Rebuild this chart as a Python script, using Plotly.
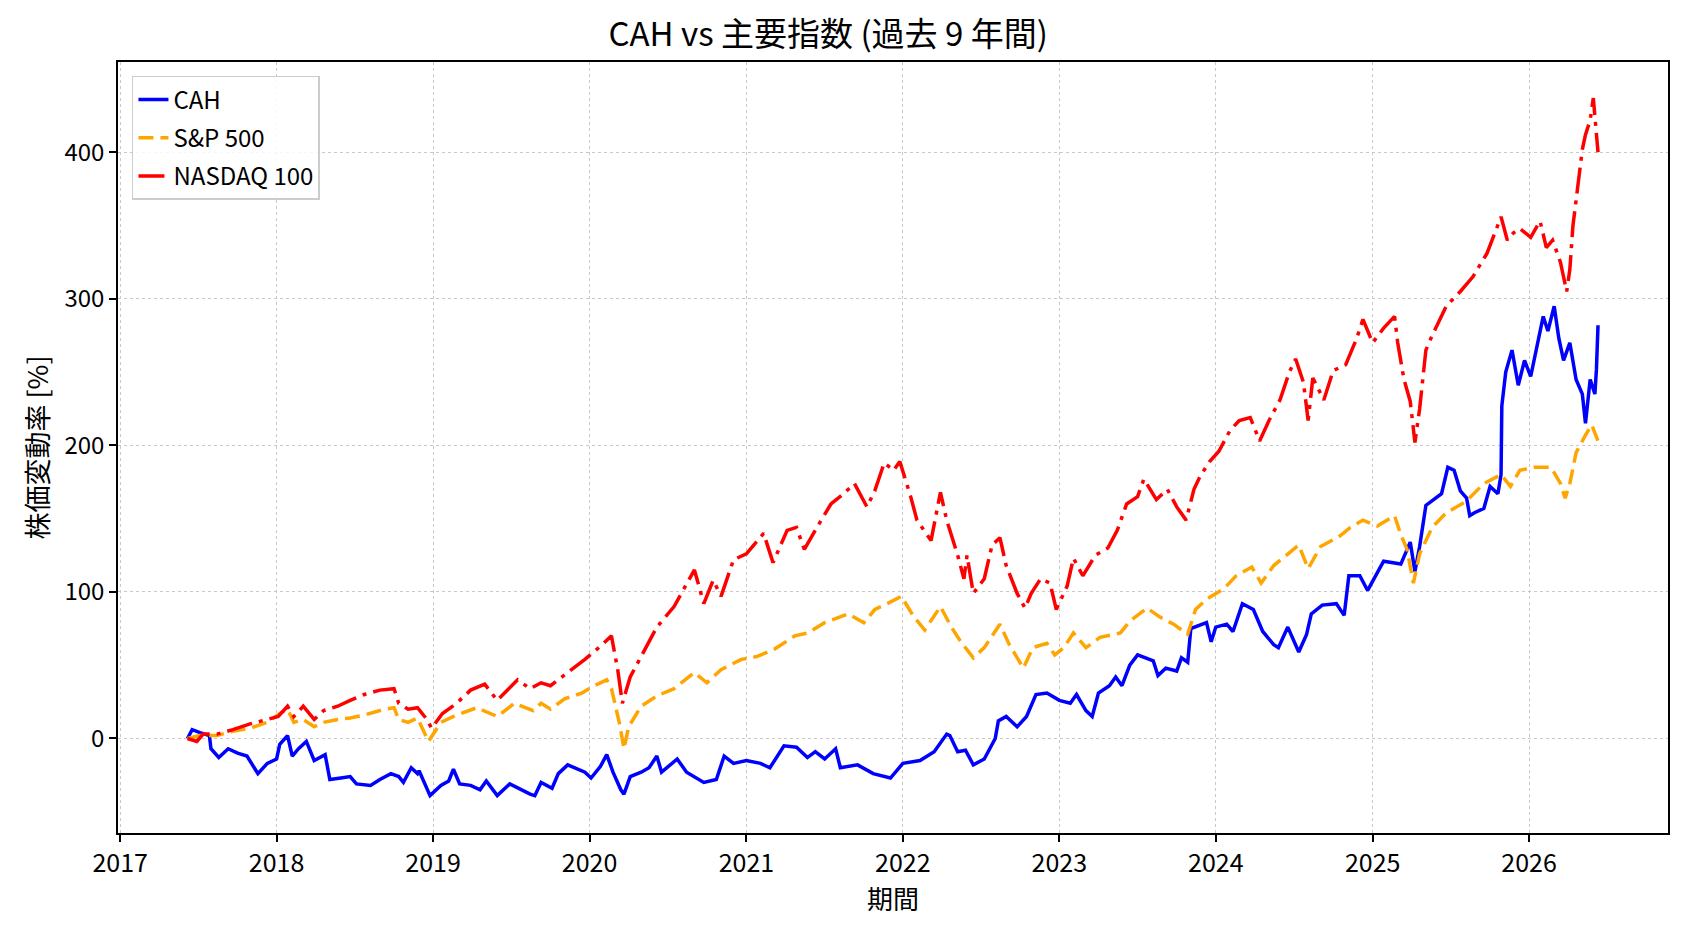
import plotly.graph_objects as go
import pandas as pd

# ---- data (decimal years, % change) ----
cah_t = [2017.43, 2017.46, 2017.51, 2017.57, 2017.58, 2017.63, 2017.69, 2017.75, 2017.81, 2017.88,
         2017.94, 2018.0, 2018.02, 2018.07, 2018.1, 2018.14, 2018.19, 2018.24, 2018.31, 2018.34,
         2018.41, 2018.47, 2018.51, 2018.6, 2018.66, 2018.73, 2018.78, 2018.81, 2018.86, 2018.9,
         2018.91, 2018.98, 2019.05, 2019.1, 2019.13, 2019.17, 2019.24, 2019.3, 2019.34, 2019.41,
         2019.49, 2019.56, 2019.62, 2019.65, 2019.69, 2019.76, 2019.8, 2019.86, 2019.9, 2019.97,
         2020.01, 2020.07, 2020.11, 2020.15, 2020.2, 2020.22, 2020.26, 2020.33, 2020.38, 2020.43,
         2020.46, 2020.56, 2020.62, 2020.73, 2020.81, 2020.86, 2020.92, 2021.0, 2021.09, 2021.15,
         2021.24, 2021.32, 2021.39, 2021.44, 2021.5, 2021.57, 2021.6, 2021.71, 2021.81, 2021.92,
         2022.0, 2022.11, 2022.2, 2022.28, 2022.3, 2022.35, 2022.4, 2022.45, 2022.52, 2022.59,
         2022.61, 2022.66, 2022.73, 2022.79, 2022.85, 2022.92, 2023.0, 2023.07, 2023.11, 2023.17,
         2023.21, 2023.25, 2023.32, 2023.36, 2023.4, 2023.45, 2023.5, 2023.6, 2023.63, 2023.68,
         2023.75, 2023.78, 2023.82, 2023.84, 2023.94, 2023.97, 2024.0, 2024.07, 2024.11, 2024.17,
         2024.24, 2024.3, 2024.37, 2024.4, 2024.46, 2024.53, 2024.58, 2024.61, 2024.68, 2024.77,
         2024.82, 2024.85, 2024.92, 2024.97, 2025.07, 2025.18, 2025.24, 2025.27, 2025.3, 2025.34,
         2025.44, 2025.48, 2025.52, 2025.56, 2025.6, 2025.62, 2025.65, 2025.71, 2025.75, 2025.8,
         2025.82, 2025.825, 2025.85, 2025.89, 2025.93, 2025.97, 2026.01, 2026.05, 2026.09, 2026.12,
         2026.16, 2026.19, 2026.22, 2026.26, 2026.3, 2026.34, 2026.36, 2026.39, 2026.42, 2026.43,
         2026.44]
cah_v = [0, 6, 4, 2, -7, -13, -7, -10, -12, -24,
         -17, -14, -4, 2, -12, -7, -2, -15, -11, -28,
         -27, -26, -31, -32, -28, -24, -26, -30, -20, -24,
         -22, -39, -32, -29, -21, -31, -32, -35, -29, -39,
         -31, -35, -38, -39, -30, -34, -24, -18, -20, -23,
         -27, -19, -11, -23, -35, -38, -26, -23, -20, -12,
         -23, -14, -23, -30, -28, -12, -17, -15, -17, -20,
         -5, -6, -13, -9, -14, -7, -20, -18, -24, -27,
         -17, -15, -9, 3, 2, -9, -8, -18, -14, 0,
         12, 15, 8, 15, 30, 31, 26, 24, 30, 19,
         15, 31, 36, 42, 36, 50, 57, 53, 43, 48,
         46, 55, 52, 75, 79, 66, 76, 78, 73, 92,
         88, 73, 64, 62, 76, 59, 71, 85, 91, 92,
         84, 111, 111, 101, 121, 119, 134, 114, 131, 159,
         167, 185, 183, 169, 164, 152, 154, 157, 172, 167,
         180, 227, 250, 265, 241, 258, 247, 268, 288, 278,
         295, 273, 258, 270, 245, 235, 215, 245, 235, 252,
         282]

sp_t = [2017.43, 2017.51, 2017.62, 2017.72, 2017.83, 2017.94, 2018.02, 2018.07, 2018.11, 2018.17,
        2018.24, 2018.3, 2018.39, 2018.47, 2018.56, 2018.69, 2018.75, 2018.78, 2018.84, 2018.9,
        2018.97, 2019.05, 2019.15, 2019.28, 2019.41, 2019.52, 2019.64, 2019.69, 2019.75, 2019.84,
        2019.95, 2020.03, 2020.11, 2020.14, 2020.19, 2020.22, 2020.25, 2020.33, 2020.43, 2020.54,
        2020.67, 2020.75, 2020.84, 2020.97, 2021.07, 2021.18, 2021.31, 2021.39, 2021.5, 2021.65,
        2021.75, 2021.82, 2021.9, 2021.99, 2022.07, 2022.14, 2022.24, 2022.31, 2022.37, 2022.45,
        2022.52, 2022.62, 2022.68, 2022.77, 2022.83, 2022.92, 2022.97, 2023.03, 2023.09, 2023.17,
        2023.26, 2023.39, 2023.45, 2023.56, 2023.64, 2023.73, 2023.82, 2023.87, 2023.94, 2024.05,
        2024.13, 2024.23, 2024.29, 2024.37, 2024.45, 2024.53, 2024.59, 2024.67, 2024.79, 2024.86,
        2024.94, 2025.03, 2025.14, 2025.18, 2025.22, 2025.26, 2025.3, 2025.38, 2025.47, 2025.6,
        2025.71, 2025.82, 2025.88, 2025.94, 2026.03, 2026.14, 2026.2, 2026.23, 2026.26, 2026.3,
        2026.36, 2026.4, 2026.44]
sp_v = [0, 2, 2, 5, 7, 11, 17, 20, 11, 13,
        8, 11, 13, 14, 16, 20, 21, 13, 11, 14,
        -2, 11, 16, 21, 15, 24, 19, 24, 20, 27,
        31, 36, 40, 34, 11, -7, 8, 22, 29, 34,
        45, 38, 47, 54, 56, 61, 70, 72, 79, 85,
        79, 88, 92, 97, 83, 74, 90, 76, 66, 55,
        62, 78, 64, 48, 62, 65, 57, 62, 72, 62,
        69, 72, 80, 89, 83, 78, 71, 88, 95, 102,
        111, 117, 106, 118, 125, 132, 116, 131, 138, 144,
        149, 145, 152, 139, 129, 106, 126, 144, 154, 162,
        174, 180, 172, 183, 185, 185, 174, 164, 174, 195,
        207, 214, 203]

nq_t = [2017.43, 2017.49, 2017.53, 2017.62, 2017.72, 2017.83, 2017.94, 2018.01, 2018.07, 2018.11,
        2018.17, 2018.24, 2018.3, 2018.39, 2018.47, 2018.56, 2018.66, 2018.75, 2018.78, 2018.84,
        2018.9, 2018.96, 2018.99, 2019.06, 2019.15, 2019.24, 2019.33, 2019.41, 2019.54, 2019.62,
        2019.69, 2019.75, 2019.86, 2019.97, 2020.07, 2020.14, 2020.18, 2020.21, 2020.26, 2020.33,
        2020.43, 2020.54, 2020.67, 2020.73, 2020.79, 2020.84, 2020.92, 2021.0, 2021.11, 2021.17,
        2021.26, 2021.32, 2021.37, 2021.45, 2021.54, 2021.62, 2021.69, 2021.77, 2021.82, 2021.88,
        2021.94, 2021.98, 2022.05, 2022.09, 2022.18, 2022.24, 2022.28, 2022.35, 2022.39, 2022.41,
        2022.45, 2022.52, 2022.57, 2022.62, 2022.66, 2022.73, 2022.78, 2022.82, 2022.88, 2022.94,
        2022.98, 2023.05, 2023.09, 2023.15, 2023.23, 2023.31, 2023.37, 2023.43, 2023.5, 2023.54,
        2023.62, 2023.69, 2023.75, 2023.81, 2023.86, 2023.9, 2023.96, 2024.02, 2024.09, 2024.15,
        2024.22, 2024.28, 2024.34, 2024.41, 2024.47, 2024.51, 2024.56, 2024.59, 2024.62, 2024.69,
        2024.75, 2024.83, 2024.9, 2024.94, 2025.0, 2025.07, 2025.14, 2025.16, 2025.2, 2025.24,
        2025.27, 2025.3, 2025.34, 2025.38, 2025.47, 2025.56, 2025.64, 2025.73, 2025.82, 2025.86,
        2025.9, 2025.94, 2026.01, 2026.07, 2026.11, 2026.15, 2026.2, 2026.24, 2026.26, 2026.28,
        2026.31, 2026.34, 2026.36, 2026.39, 2026.41, 2026.43, 2026.44]
nq_v = [0, -2, 3, 3, 6, 10, 13, 15, 22, 15,
        22, 13, 19, 22, 26, 30, 33, 34, 24, 20,
        21, 13, 7, 17, 24, 33, 37, 26, 40, 34,
        38, 36, 45, 54, 63, 70, 47, 24, 42, 56,
        76, 90, 115, 92, 108, 97, 122, 126, 140, 120,
        142, 144, 129, 144, 160, 167, 174, 158, 169, 188,
        183, 189, 165, 149, 135, 168, 149, 125, 109, 125,
        99, 109, 132, 137, 118, 99, 89, 99, 109, 106,
        88, 104, 123, 111, 125, 130, 142, 160, 165, 177,
        163, 170, 158, 149, 170, 179, 189, 196, 210, 217,
        219, 203, 217, 231, 250, 259, 243, 217, 246, 231,
        251, 255, 273, 286, 270, 280, 288, 270, 245, 230,
        202, 225, 265, 275, 295, 305, 315, 331, 356, 340,
        345, 348, 342, 353, 335, 340, 325, 305, 320, 350,
        375, 402, 412, 422, 437, 409, 400]

series_names = ["CAH", "S&P 500", "NASDAQ 100"]
year_ticks = list(range(2017, 2027))
y_ticks = [0, 100, 200, 300, 400]


def to_dates(ts):
    out = []
    for t in ts:
        y = int(t)
        out.append(pd.Timestamp(f"{y}-01-01") + pd.Timedelta(days=(t - y) * 365.25))
    return out


FONT = "'Noto Sans CJK JP', sans-serif"

fig = go.Figure()
fig.add_trace(go.Scatter(x=to_dates(cah_t), y=cah_v, mode="lines", name=series_names[0],
                         legendgroup="g1",
                         line=dict(color="#0000ff", width=3.5)))
fig.add_trace(go.Scatter(x=to_dates(sp_t), y=sp_v, mode="lines", name=series_names[1],
                         legendgroup="g2",
                         line=dict(color="#ffa500", width=3.5, dash="15px,7px")))
fig.add_trace(go.Scatter(x=to_dates(nq_t), y=nq_v, mode="lines", name=series_names[2],
                         legendgroup="g3",
                         line=dict(color="#ff0000", width=3.5, dash="26px,7px,4px,7px")))

fig.update_layout(
    width=1688, height=932,
    margin=dict(l=118, r=20, t=62, b=99),
    paper_bgcolor="white", plot_bgcolor="white",
    font=dict(family=FONT, size=25, color="black"),
    title=dict(text="CAH vs 主要指数 (過去 9 年間)", x=0.4906, xanchor="center",
               y=0.963, yanchor="middle", font=dict(size=33)),
    showlegend=True,
    legend=dict(x=0.009, y=0.982, xanchor="left", yanchor="top",
                bgcolor="rgba(255,255,255,0.85)", bordercolor="#cccccc", borderwidth=1.5,
                font=dict(size=24), tracegroupgap=4),
)

fig.update_xaxes(
    range=[pd.Timestamp("2016-12-27"), pd.Timestamp("2026-11-21")],
    tickvals=[pd.Timestamp(f"{y}-01-01") for y in year_ticks],
    ticktext=[str(y) for y in year_ticks],
    showline=True, linecolor="black", linewidth=1.5, mirror=True,
    ticks="outside", ticklen=7, tickwidth=1.5, tickcolor="black",
    showgrid=True, gridcolor="#c8c8c8", gridwidth=1.2, griddash="dot",
    zeroline=False,
    tickfont=dict(size=25),
    title=dict(text="期間", standoff=3, font=dict(size=26)),
)
fig.update_yaxes(
    range=[-64.5, 461.6],
    tickvals=y_ticks,
    showline=True, linecolor="black", linewidth=1.5, mirror=True,
    ticks="outside", ticklen=7, tickwidth=1.5, tickcolor="black",
    showgrid=True, gridcolor="#c8c8c8", gridwidth=1.2, griddash="dot",
    zeroline=False,
    tickfont=dict(size=24),
    title=dict(text="株価変動率 [%]", standoff=8, font=dict(size=27)),
)

fig.write_html("out.html")
